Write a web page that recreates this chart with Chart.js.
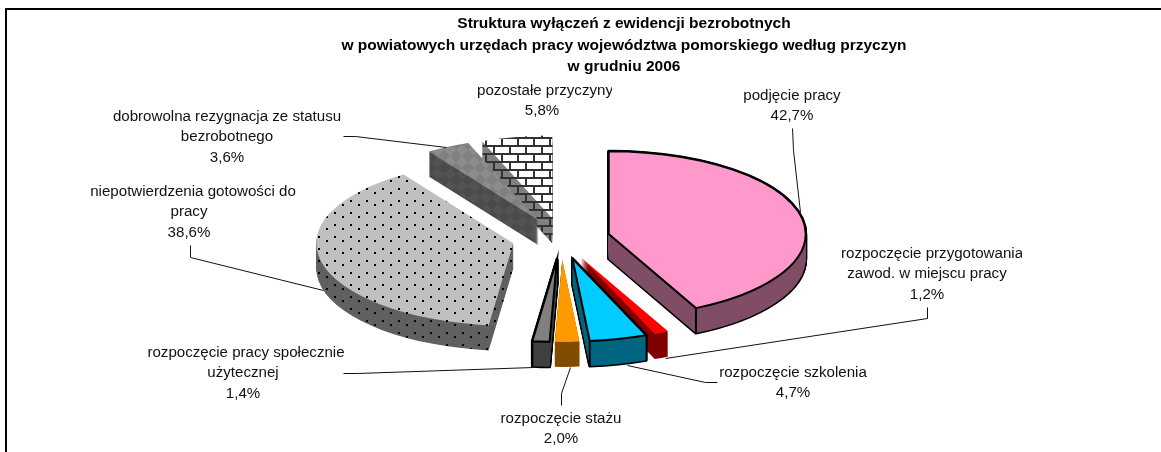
<!DOCTYPE html>
<html lang="pl">
<head>
<meta charset="utf-8">
<title>Struktura wyłączeń z ewidencji bezrobotnych</title>
<script src="https://cdn.jsdelivr.net/npm/chart.js@4"></script>
<style>
html,body{margin:0;padding:0;background:#fff;overflow:hidden}
#wrap{position:relative;width:1161px;height:452px}
canvas{display:block}
</style>
</head>
<body>
<div id="wrap"><canvas id="c" width="1161" height="452"></canvas></div>
<script>
const titleLines = [
  'Struktura wyłączeń z ewidencji bezrobotnych',
  'w powiatowych urzędach pracy województwa pomorskiego według przyczyn',
  'w grudniu 2006'
];
const categories = [
  'podjęcie pracy',
  'rozpoczęcie przygotowania zawod. w miejscu pracy',
  'rozpoczęcie szkolenia',
  'rozpoczęcie stażu',
  'rozpoczęcie pracy społecznie użytecznej',
  'niepotwierdzenia gotowości do pracy',
  'dobrowolna rezygnacja ze statusu bezrobotnego',
  'pozostałe przyczyny'
];
const values = [42.7, 1.2, 4.7, 2.0, 1.4, 38.6, 3.6, 5.8];

const labelLines = [
  ['podjęcie pracy'],
  ['rozpoczęcie przygotowania', 'zawod. w miejscu pracy'],
  ['rozpoczęcie szkolenia'],
  ['rozpoczęcie stażu'],
  ['rozpoczęcie pracy społecznie', 'użytecznej'],
  ['niepotwierdzenia gotowości do', 'pracy'],
  ['dobrowolna rezygnacja ze statusu', 'bezrobotnego'],
  ['pozostałe przyczyny']
];
// label placement: centre x of the first line, centre x of the other lines, first line centre y, right clip edge
const labelPlaces = [
  [792, 792, 96, 2000], [932, 927, 254, 1022], [793, 793, 373, 2000], [561, 561, 419, 623],
  [246, 243, 353, 345], [193, 189, 192, 297], [227, 227, 117, 342], [545, 542, 91, 612]
];
const leaderLines = [
  [[792,128],[793,150],[800,212]],
  [[927,307],[927,318],[665,358]],
  [[717,382],[705,382],[627,365]],
  [[561,405],[561,393],[570,367]],
  [[343,373],[357,373],[533,367]],
  [[190,245],[190,257],[323,290]],
  [[343,136],[355,136],[446,147]],
  []
];
const TILT = 0.42, DEPTH = 25, EXPLODE = 49, RADIUS = 197, CX = 561, CY = 238.6;
const drawOrder = [7, 6, 5, 0, 1, 2, 3, 4];
const outlined = [true, false, true, false, true, false, false, false];

function tile(w, h, paint) {
  const c = document.createElement('canvas');
  c.width = w; c.height = h;
  paint(c.getContext('2d'));
  return c.getContext('2d').createPattern(c, 'repeat');
}
function dots(bg) {
  return tile(16, 12, g => {
    g.fillStyle = bg; g.fillRect(0, 0, 16, 12);
    g.fillStyle = '#000';
    g.fillRect(14, 8, 2, 2);
    g.fillRect(6, 0, 2, 2);
  });
}
function bricks(bg) {
  return tile(16, 16, g => {
    g.fillStyle = bg; g.fillRect(0, 0, 16, 16);
    g.fillStyle = '#333';
    g.fillRect(0, 1, 16, 2); g.fillRect(0, 9, 16, 2);
    g.fillRect(13, 1, 2, 8);
    g.fillRect(5, 9, 2, 7); g.fillRect(5, 0, 2, 1);
  });
}
function diamonds(a, b) {
  return tile(12, 12, g => {
    g.fillStyle = a; g.fillRect(0, 0, 12, 12);
    g.fillStyle = b;
    g.beginPath(); g.moveTo(6, 0); g.lineTo(12, 6); g.lineTo(6, 12); g.lineTo(0, 6); g.closePath(); g.fill();
  });
}
const topFills = ['#ff99cc', '#ff0000', '#00ccff', '#ff9900', '#808080', dots('#c0c0c0'), diamonds('#808080', '#8c8c8c'), bricks('#ffffff')];
const sideFills = ['#804d66', '#800000', '#006680', '#804d00', '#404040', dots('#606060'), diamonds('#4a4a4a', '#525252'), bricks('#808080')];

const pie3d = {
  id: 'pie3d',
  beforeDatasetsDraw(chart) {
    const ctx = chart.ctx;
    const arcs = chart.getDatasetMeta(0).data;
    const place = (arc, lift) => {
      const mid = (arc.startAngle + arc.endAngle) / 2;
      ctx.translate(CX, CY + lift);
      ctx.scale(1, TILT);
      ctx.translate(Math.cos(mid) * EXPLODE, Math.sin(mid) * EXPLODE);
      ctx.translate(-arc.x, -arc.y);
    };
    const wedge = (arc, lift) => {
      ctx.save();
      place(arc, lift);
      ctx.beginPath();
      ctx.moveTo(arc.x, arc.y);
      ctx.arc(arc.x, arc.y, arc.outerRadius, arc.startAngle, arc.endAngle);
      ctx.closePath();
      ctx.restore();
    };
    const paint = (arc, fill, lift) => {
      const own = arc.options;
      arc.options = Object.assign({}, own, { backgroundColor: fill, borderWidth: 0 });
      ctx.save();
      place(arc, lift);
      // keep patterns fixed on the screen, whatever the tilt and the layer
      if (fill instanceof CanvasPattern) fill.setTransform(ctx.getTransform().inverse());
      arc.draw(ctx);
      ctx.restore();
      arc.options = own;
    };
    drawOrder.forEach(i => {
      const arc = arcs[i];
      ctx.lineJoin = 'round';
      if (outlined[i]) {
        ctx.strokeStyle = '#000';
        ctx.lineWidth = 3;
        for (let k = DEPTH; k >= 0; k -= 1) { wedge(arc, k); ctx.stroke(); }
      }
      for (let k = DEPTH; k >= 1; k -= 1) paint(arc, sideFills[i], k);
      paint(arc, topFills[i], 0);
      if (outlined[i]) {
        ctx.lineWidth = 2;
        ctx.lineJoin = 'miter';
        wedge(arc, 0); ctx.stroke();
        // front vertical edge of the slice
        const mid = (arc.startAngle + arc.endAngle) / 2;
        const ex = CX + Math.cos(mid) * EXPLODE + Math.cos(arc.endAngle) * arc.outerRadius;
        const ey = CY + (Math.sin(mid) * EXPLODE + Math.sin(arc.endAngle) * arc.outerRadius) * TILT;
        ctx.beginPath(); ctx.moveTo(ex, ey); ctx.lineTo(ex, ey + DEPTH); ctx.stroke();
      }
    });
    return false;
  },
  afterDraw(chart) {
    const ctx = chart.ctx;
    ctx.save();
    // frame of the original picture
    ctx.strokeStyle = '#000'; ctx.lineWidth = 2;
    ctx.beginPath(); ctx.moveTo(6, 452); ctx.lineTo(6, 9); ctx.lineTo(1161, 9); ctx.stroke();
    // leader lines
    ctx.strokeStyle = '#111'; ctx.lineWidth = 1;
    leaderLines.forEach(pts => {
      if (!pts.length) return;
      ctx.beginPath();
      pts.forEach((p, n) => n ? ctx.lineTo(p[0] + .5, p[1] + .5) : ctx.moveTo(p[0] + .5, p[1] + .5));
      ctx.stroke();
    });
    // data labels
    ctx.fillStyle = '#111';
    ctx.font = '15.1px "Liberation Sans", Arial, sans-serif';
    ctx.textAlign = 'center'; ctx.textBaseline = 'middle';
    labelLines.forEach((lines, i) => {
      const [firstX, x, y, clipX] = labelPlaces[i];
      const all = lines.concat(values[i].toFixed(1).replace('.', ',') + '%');
      ctx.save();
      ctx.beginPath(); ctx.rect(0, 0, clipX, 452); ctx.clip();
      all.forEach((t, n) => ctx.fillText(t, n ? x : firstX, y + n * 20.2));
      ctx.restore();
    });
    ctx.restore();
  }
};

Chart.defaults.font.family = '"Liberation Sans", Arial, sans-serif';
new Chart(document.getElementById('c'), {
  type: 'pie',
  data: {
    labels: categories,
    datasets: [{ data: values, backgroundColor: topFills, borderWidth: 0, radius: RADIUS }]
  },
  plugins: [pie3d],
  options: {
    responsive: false,
    animation: false,
    layout: { padding: { left: 87, top: 8 } },
    plugins: {
      legend: { display: false },
      tooltip: { enabled: false },
      title: {
        display: true,
        fullSize: false,
        text: titleLines,
        color: '#000',
        font: { size: 15.5, weight: 'bold', lineHeight: 1.39 },
        padding: { top: 5, bottom: 0 }
      }
    }
  }
});
</script>
</body>
</html>
